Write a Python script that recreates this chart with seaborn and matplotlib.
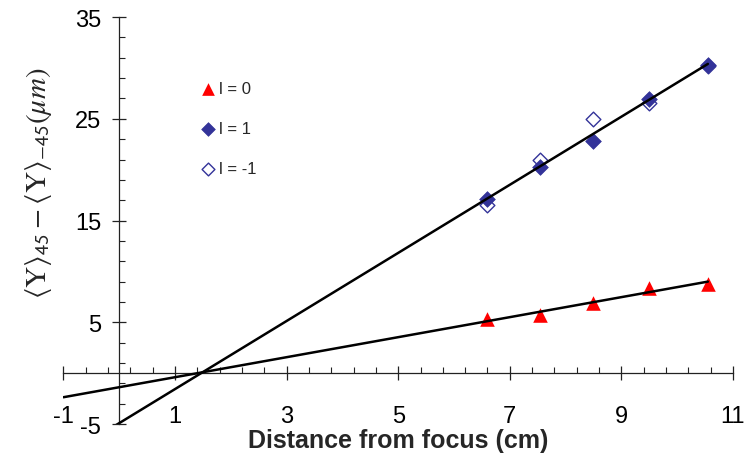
import numpy as np
import pandas as pd
import matplotlib
matplotlib.use('Agg')
import matplotlib.pyplot as plt
from matplotlib.ticker import FixedLocator
import seaborn as sns

# values
distance = [6.6, 7.55, 8.5, 9.5, 10.55]
shift_l0 = [5.3, 5.7, 6.9, 8.4, 8.8]
shift_l1 = [17.1, 20.3, 22.8, 26.9, 30.3]
shift_lm1 = [16.5, 21.0, 25.0, 26.6, 30.2]

x_ticks = [-1, 1, 3, 5, 7, 9, 11]
y_ticks = [-5, 5, 15, 25, 35]

red = '#ff0000'
navy = '#333399'

sns.set_theme(style='white')
plt.rcParams['font.family'] = ['Liberation Sans', 'DejaVu Sans']
plt.rcParams['mathtext.fontset'] = 'stix'
plt.rcParams['axes.unicode_minus'] = False

fig = plt.figure(figsize=(7.44, 4.64), dpi=100)
ax = fig.add_axes([0.0852, 0.084, 0.900, 0.877])

# linear fits (l=1 and l=-1 share one line)
fit0 = np.polyfit(distance, shift_l0, 1)
fit1 = np.polyfit(distance + distance, shift_l1 + shift_lm1, 1)
xs = np.array([-1, max(distance)])

sns.scatterplot(x=distance, y=shift_l0, marker='^', s=110, color=red,
                edgecolor=red, linewidth=0, label='l = 0', ax=ax, zorder=2)
sns.scatterplot(x=distance, y=shift_lm1, marker='D', s=56, facecolor='white',
                edgecolor=navy, linewidth=1.0, label='l = -1', ax=ax, zorder=2)
sns.scatterplot(x=distance, y=shift_l1, marker='D', s=64, color=navy,
                edgecolor=navy, linewidth=0.5, label='l = 1', ax=ax, zorder=2)

sns.lineplot(x=xs, y=np.polyval(fit0, xs), color='black', lw=1.8, ax=ax, zorder=3)
sns.lineplot(x=xs, y=np.polyval(fit1, xs), color='black', lw=1.8, ax=ax, zorder=3)

ax.set_xlim(-1, 11)
ax.set_ylim(-5, 35)

for s in ['top', 'right']:
    ax.spines[s].set_visible(False)
for s in ['left', 'bottom']:
    ax.spines[s].set_position(('data', 0))
    ax.spines[s].set_color('#222222')
    ax.spines[s].set_linewidth(0.9)

ax.set_xticks(x_ticks)
ax.set_yticks(y_ticks)
ax.xaxis.set_minor_locator(FixedLocator(np.arange(-1, 11.01, 0.4)))
ax.yaxis.set_minor_locator(FixedLocator(np.arange(-5, 35.01, 2)))
ax.tick_params(which='major', direction='inout', length=10, width=0.9,
               color='#222222', labelsize=17, labelcolor='black',
               bottom=True, left=True)
ax.tick_params(which='minor', direction='in', length=4, width=0.8,
               color='#222222', bottom=True, left=True)
ax.tick_params(axis='x', which='major', pad=18)
ax.tick_params(axis='y', which='major', pad=8)

ax.set_xlabel('Distance from focus (cm)', fontsize=18, fontweight='bold',
              labelpad=1)
ax.set_ylabel(r'$\langle \mathrm{Y}\rangle_{\mathsf{45}} - \langle \mathrm{Y}\rangle_{\mathsf{-45}}(\mu m)$',
              fontsize=21)
ax.yaxis.set_label_coords(-0.014, 0.595)

handles, labels = ax.get_legend_handles_labels()
order = [labels.index(l) for l in ['l = 0', 'l = 1', 'l = -1']]
ax.legend([handles[i] for i in order], [labels[i] for i in order],
          loc='upper left', bbox_to_anchor=(0.270, 0.823),
          bbox_transform=fig.transFigure, frameon=False, fontsize=12,
          handlelength=0.8, handletextpad=0.28, labelspacing=1.5,
          borderpad=0, borderaxespad=0, scatterpoints=1, markerscale=0.87)

fig.savefig('out.png', dpi=100)
